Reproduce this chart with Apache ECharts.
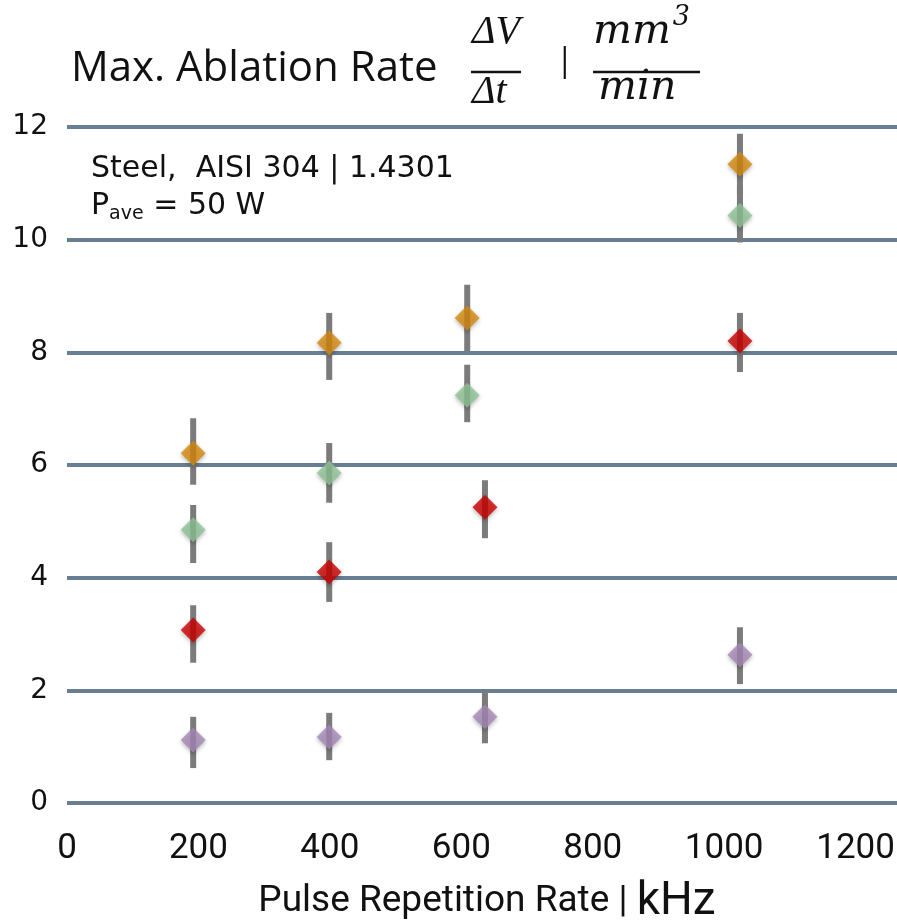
<!DOCTYPE html>
<html>
<head>
<meta charset="utf-8">
<script src="https://cdn.jsdelivr.net/npm/echarts@6/dist/echarts.min.js"></script>
<style>
  html, body { margin: 0; padding: 0; background: #fff; }
  #chart { width: 897px; height: 922px; }
</style>
</head>
<body>
<div id="chart"></div>
<script>
// x positions (kHz), one array per series
const orangeX = [192, 399, 609, 1024]
const orangeY = [6.21, 8.17, 8.61, 11.34]
const orangeLo = [5.65, 7.51, 8.01, 10.8]
const orangeHi = [6.83, 8.70, 9.20, 11.88]

const greenX = [192, 399, 609, 1024]
const greenY = [4.85, 5.86, 7.24, 10.43]
const greenLo = [4.26, 5.33, 6.76, 9.95]
const greenHi = [5.29, 6.39, 7.78, 10.95]

const redX = [192, 399, 636, 1024]
const redY = [3.07, 4.10, 5.25, 8.20]
const redLo = [2.49, 3.57, 4.70, 7.65]
const redHi = [3.51, 4.63, 5.73, 8.70]

const purpleX = [192, 399, 636, 1024]
const purpleY = [1.12, 1.17, 1.53, 2.63]
const purpleLo = [0.62, 0.76, 1.06, 2.11]
const purpleHi = [1.53, 1.60, 1.97, 3.12]

const xTicks = [0, 200, 400, 600, 800, 1000, 1200]
const yTicks = [0, 2, 4, 6, 8, 10, 12]

const seriesDefs = [
  { name : 'orange', color : '#d68a0e', x : orangeX, y : orangeY, lo : orangeLo, hi : orangeHi },
  { name : 'green', color : '#8fc496', x : greenX, y : greenY, lo : greenLo, hi : greenHi },
  { name : 'red', color : '#cc0000', x : redX, y : redY, lo : redLo, hi : redHi },
  { name : 'purple', color : '#a689b5', x : purpleX, y : purpleY, lo : purpleLo, hi : purpleHi }
]

const chart = echarts.init( document.getElementById( 'chart' ) )

const errorSeries = seriesDefs.map( s => ( {
  type : 'custom',
  name : s.name + ' err',
  z : 3,
  data : s.x.map( ( x, i ) => [x, s.lo[i], s.hi[i]] ),
  renderItem : ( params, api ) => {
    const p1 = api.coord( [api.value( 0 ), api.value( 1 )] )
    const p2 = api.coord( [api.value( 0 ), api.value( 2 )] )
    return {
      type : 'line',
      shape : { x1 : p1[0], y1 : p1[1], x2 : p2[0], y2 : p2[1] },
      style : { stroke : '#7b7b7b', lineWidth : 6 }
    }
  }
} ) )

const pointSeries = seriesDefs.map( s => ( {
  type : 'scatter',
  name : s.name,
  z : 5,
  symbol : 'diamond',
  symbolSize : [25, 25],
  itemStyle : {
    color : s.color,
    shadowColor : 'rgba(0,0,0,0.35)',
    shadowBlur : 4,
    shadowOffsetY : 2
  },
  data : s.x.map( ( x, i ) => [x, s.y[i]] )
} ) )

const fracFont = 'italic 40px "Liberation Serif", "DejaVu Serif", serif'
const unitFont = 'italic 41px "DejaVu Serif", serif'
const narrow = '"Liberation Sans Narrow", Roboto, sans-serif'

chart.setOption( {
  backgroundColor : '#ffffff',
  animation : false,
  title : {
    text : 'Max. Ablation Rate',
    left : 66,
    top : 43,
    textStyle : {
      fontFamily : 'Open Sans',
      fontWeight : 'normal',
      fontSize : 42,
      color : '#111'
    }
  },
  graphic : [
    { type : 'text', left : 472, top : 12, style : { text : 'ΔV', font : fracFont, fill : '#111' } },
    { type : 'line', shape : { x1 : 471, y1 : 72, x2 : 521, y2 : 72 }, style : { stroke : '#111', lineWidth : 2.5 } },
    { type : 'text', left : 472, top : 72, style : { text : 'Δt', font : fracFont, fill : '#111' } },
    { type : 'text', left : 556, top : 46, style : { text : '|', font : '32px "Open Sans"', fill : '#111' } },
    { type : 'text', left : 593, top : 4, style : {
      text : '{a|mm}{s|3}',
      rich : {
        a : { font : unitFont, fill : '#111', verticalAlign : 'bottom' },
        s : { font : 'italic 27px "DejaVu Serif", serif', fill : '#111', verticalAlign : 'top', padding : [0, 0, 22, 2] }
      }
    } },
    { type : 'line', shape : { x1 : 593, y1 : 72, x2 : 700, y2 : 72 }, style : { stroke : '#111', lineWidth : 2.5 } },
    { type : 'text', left : 598, top : 68, style : { text : 'min', font : unitFont, fill : '#111' } },
    { type : 'text', left : 91, top : 154, style : { text : 'Steel,  AISI 304 | 1.4301', font : '30px "DejaVu Sans"', fill : '#111' } },
    { type : 'text', left : 91, top : 191, style : {
      text : '{p|P}{s|ave}{p| = 50 W}',
      rich : {
        p : { font : '30px "DejaVu Sans"', fill : '#111' },
        s : { font : '19px "DejaVu Sans"', fill : '#111', padding : [16, 0, 0, 0] }
      }
    } }
  ],
  grid : {
    left : 67,
    right : 0,
    top : 127,
    bottom : 119,
    outerBoundsMode : 'none',
    containLabel : false
  },
  xAxis : {
    type : 'value',
    min : 0,
    max : 1263,
    interval : 200,
    axisLine : { show : false },
    axisTick : { show : false },
    splitLine : { show : false },
    axisLabel : {
      showMaxLabel : false,
      margin : 29,
      fontSize : 35,
      fontFamily : narrow,
      color : '#111',
      formatter : v => xTicks.includes( v ) ? String( v ) : ''
    },
    name : '{a|Pulse Repetition Rate | }{b|kHz}',
    nameLocation : 'middle',
    nameGap : 76,
    nameTextStyle : {
      padding : [0, 0, 0, 10],
      rich : {
        a : { fontSize : 37, fontFamily : narrow, color : '#111' },
        b : { fontSize : 46, fontFamily : narrow, color : '#111' }
      }
    }
  },
  yAxis : {
    type : 'value',
    min : 0,
    max : 12,
    interval : 2,
    axisLine : { show : false },
    axisTick : { show : false },
    axisLabel : {
      margin : 19,
      fontSize : 28,
      fontFamily : '"DejaVu Sans"',
      color : '#111',
      formatter : v => yTicks.includes( v ) ? String( v ) : ''
    },
    splitLine : {
      lineStyle : { color : '#687e93', width : 4 }
    }
  },
  series : [...errorSeries, ...pointSeries]
} )
</script>
</body>
</html>
